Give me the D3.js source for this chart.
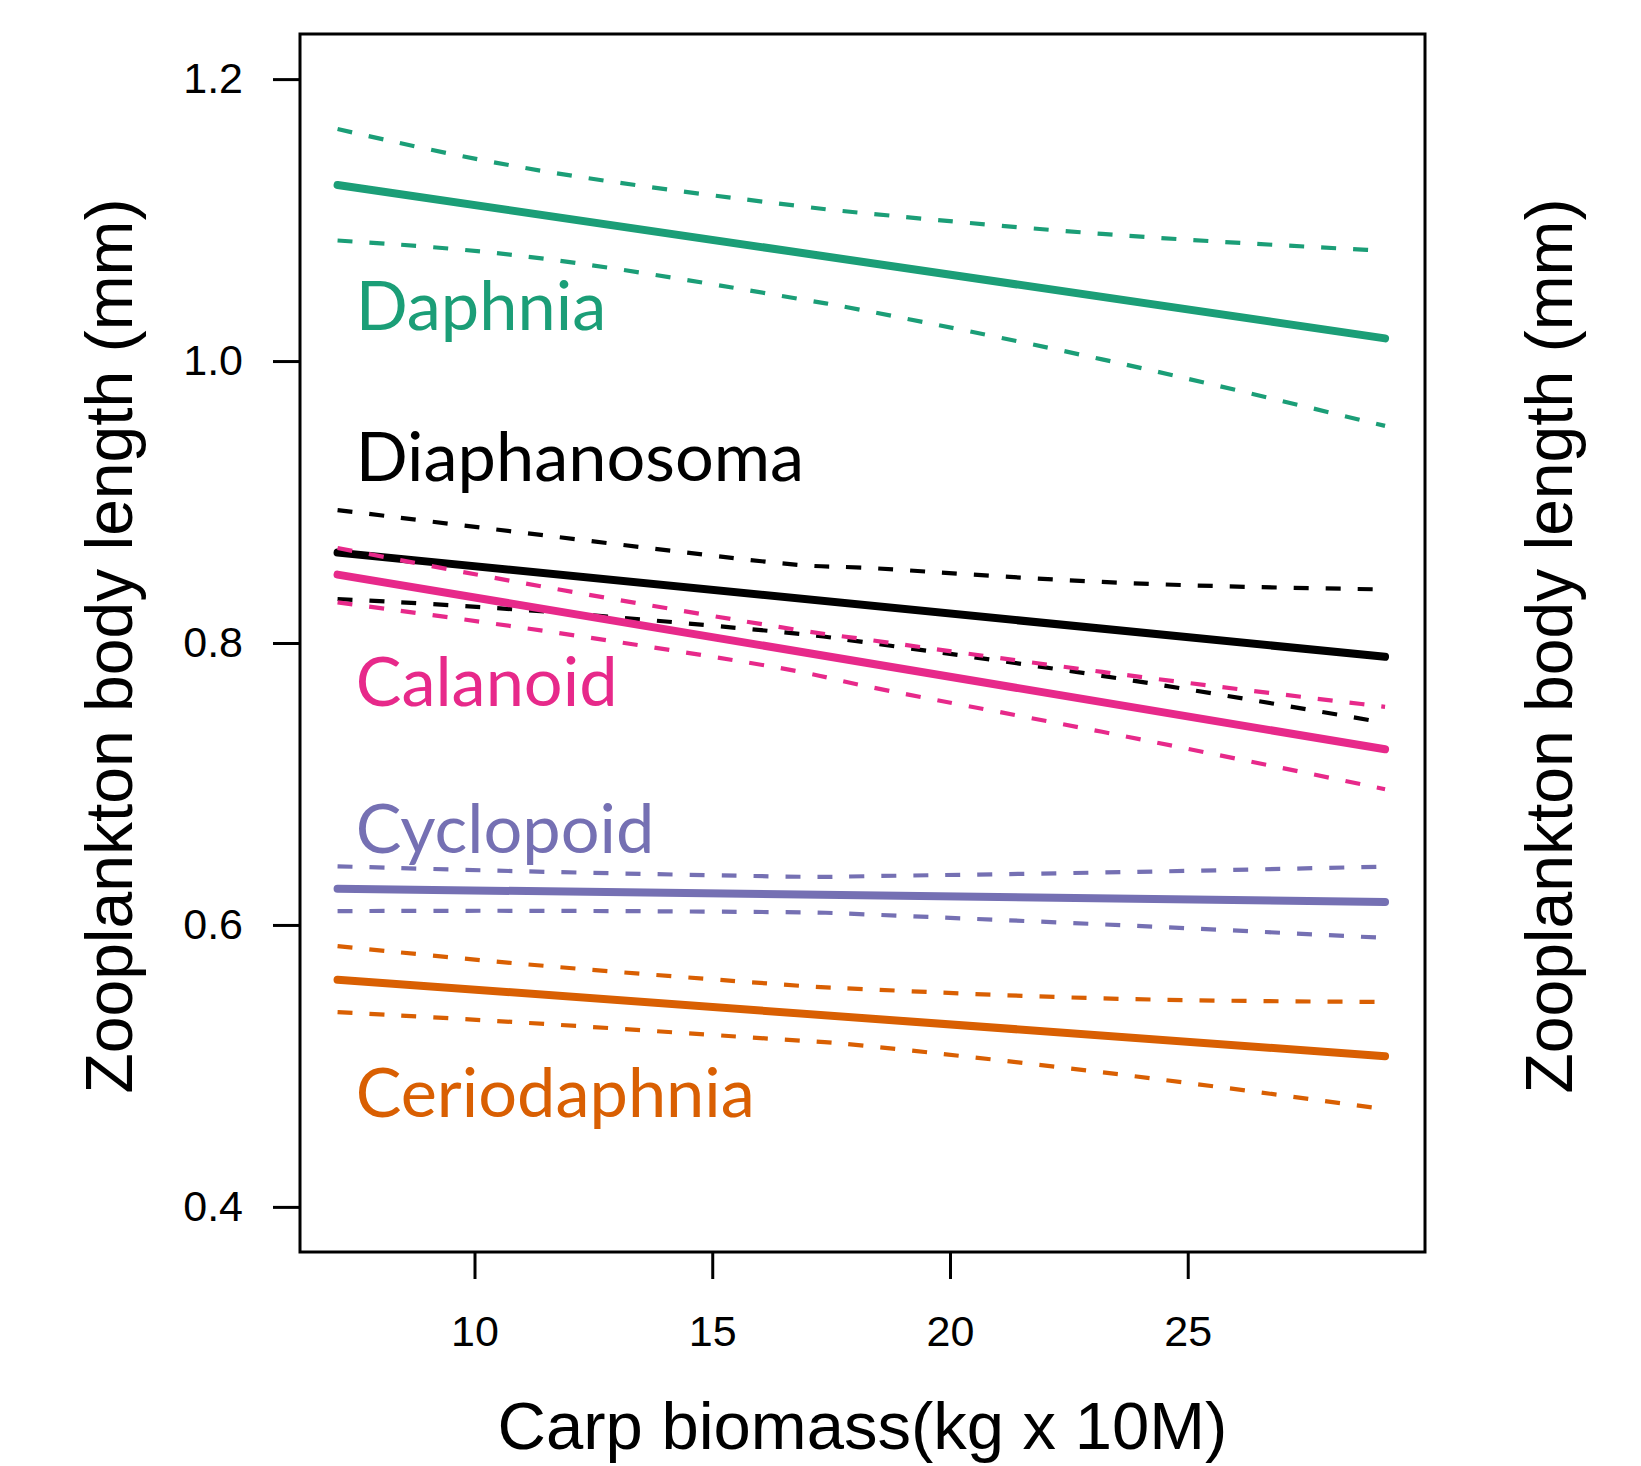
<!DOCTYPE html>
<html>
<head>
<meta charset="utf-8">
<script src="https://cdn.jsdelivr.net/npm/d3@7"></script>
<style>
  html, body { margin: 0; padding: 0; background: #fff; }
  svg { display: block; }
  .tick text { font-family: "Liberation Sans", Arial, sans-serif; }
</style>
</head>
<body>
<svg id="svg" width="1641" height="1466"></svg>
<script>
var biomass = [7.12, 11.6, 16.4, 18.3, 23.2, 29.15];
var fitEnds = [7.12, 29.15];

var xTicks = [10, 15, 20, 25];
var yTicks = [0.4, 0.6, 0.8, 1.0, 1.2];

var daphniaFit = [1.1249, 1.0161];
var daphniaUpper = [1.1646, 1.1339, 1.1117, 1.1046, 1.0902, 1.0782];
var daphniaLower = [1.0855, 1.0720, 1.0465, 1.0352, 1.0012, 0.9540];

var diaphanosomaFit = [0.8641, 0.7902];
var diaphanosomaUpper = [0.8943, 0.8758, 0.8567, 0.8532, 0.8433, 0.8380];
var diaphanosomaLower = [0.8312, 0.8220, 0.8079, 0.8001, 0.7767, 0.7434];

var calanoidFit = [0.8485, 0.7246];
var calanoidUpper = [0.8674, 0.8390, 0.8114, 0.8022, 0.7795, 0.7547];
var calanoidLower = [0.8288, 0.8079, 0.7824, 0.7689, 0.7370, 0.6963];

var cyclopoidFit = [0.6257, 0.6163];
var cyclopoidUpper = [0.6416, 0.6376, 0.6344, 0.6346, 0.6372, 0.6414];
var cyclopoidLower = [0.6098, 0.6100, 0.6091, 0.6074, 0.6004, 0.5908];

var ceriodaphniaFit = [0.5612, 0.5069];
var ceriodaphniaUpper = [0.5850, 0.5706, 0.5579, 0.5543, 0.5479, 0.5454];
var ceriodaphniaLower = [0.5382, 0.5295, 0.5189, 0.5140, 0.4955, 0.4693];

var taxa = ["Daphnia", "Diaphanosoma", "Calanoid", "Cyclopoid", "Ceriodaphnia"];
var colors = ["#1b9e77", "#000000", "#e7298a", "#7570b3", "#d95f02"];
var labelBiomass = 7.5;
var labelLength = [1.0217, 0.9148, 0.7555, 0.6513, 0.4637];

var series = [
  {fit: daphniaFit, upper: daphniaUpper, lower: daphniaLower},
  {fit: diaphanosomaFit, upper: diaphanosomaUpper, lower: diaphanosomaLower},
  {fit: calanoidFit, upper: calanoidUpper, lower: calanoidLower},
  {fit: cyclopoidFit, upper: cyclopoidUpper, lower: cyclopoidLower},
  {fit: ceriodaphniaFit, upper: ceriodaphniaUpper, lower: ceriodaphniaLower}
];

var svg = d3.select("#svg"),
  margin = {top: 34, right: 216, bottom: 214, left: 300},
  width = svg.attr("width") - margin.left - margin.right,
  height = svg.attr("height") - margin.top - margin.bottom,
  g = svg.append("g").attr("transform", "translate(" + margin.left + "," + margin.top + ")");

var x = d3.scaleLinear().domain([6.33, 29.99]).range([0, width]),
    y = d3.scaleLinear().domain([0.368, 1.232]).range([height, 0]);

var band = d3.line()
  .curve(d3.curveNatural)
  .x(function (d) { return x(d.b); })
  .y(function (d) { return y(d.v); });

var straight = d3.line()
  .x(function (d) { return x(d.b); })
  .y(function (d) { return y(d.v); });

function pair(xs, vs) {
  return xs.map(function (b, i) { return {b: b, v: vs[i]}; });
}

// axes (box drawn separately, so domain paths removed)
var xAxis = g.append("g")
  .attr("transform", "translate(0," + height + ")")
  .call(d3.axisBottom(x).tickValues(xTicks).tickSize(27).tickPadding(36).tickFormat(d3.format("d")));
var yAxis = g.append("g")
  .call(d3.axisLeft(y).tickValues(yTicks).tickSize(27).tickPadding(30).tickFormat(d3.format(".1f")));

[xAxis, yAxis].forEach(function (a) {
  a.select(".domain").remove();
  a.selectAll(".tick line").attr("stroke", "#000").attr("stroke-width", 3);
  a.selectAll(".tick text").attr("fill", "#000").attr("font-size", 43);
});

// lines
var grp = g.selectAll(".taxon")
  .data(series)
  .enter()
  .append("g")
  .attr("class", "taxon");

grp.append("path")
  .attr("d", function (d) { return band(pair(biomass, d.upper)); })
  .attr("fill", "none")
  .attr("stroke", function (d, i) { return colors[i]; })
  .attr("stroke-width", 4.2)
  .attr("stroke-dasharray", "15,17");

grp.append("path")
  .attr("d", function (d) { return band(pair(biomass, d.lower)); })
  .attr("fill", "none")
  .attr("stroke", function (d, i) { return colors[i]; })
  .attr("stroke-width", 4.2)
  .attr("stroke-dasharray", "15,17");

grp.append("path")
  .attr("d", function (d) { return straight(pair(fitEnds, d.fit)); })
  .attr("fill", "none")
  .attr("stroke", function (d, i) { return colors[i]; })
  .attr("stroke-width", 8)
  .attr("stroke-linecap", "round");

// species labels
g.selectAll(".label")
  .data(taxa)
  .enter()
  .append("text")
  .attr("class", "label")
  .attr("x", x(labelBiomass))
  .attr("y", function (d, i) { return y(labelLength[i]); })
  .attr("fill", function (d, i) { return colors[i]; })
  .attr("font-family", "Lato, 'Open Sans', sans-serif")
  .attr("font-size", 68.5)
  .text(function (d) { return d; });

// box
g.append("rect")
  .attr("width", width)
  .attr("height", height)
  .attr("fill", "none")
  .attr("stroke", "#000")
  .attr("stroke-width", 3);

// titles
svg.append("text")
  .attr("x", margin.left + width / 2)
  .attr("y", 1449)
  .attr("text-anchor", "middle")
  .attr("font-family", "'Liberation Sans', Arial, sans-serif")
  .attr("font-size", 67)
  .attr("fill", "#000")
  .text("Carp biomass(kg x 10M)");

[132, 1572].forEach(function (bx) {
  svg.append("text")
    .attr("transform", "translate(" + bx + "," + 646 + ") rotate(-90)")
    .attr("text-anchor", "middle")
    .attr("font-family", "'Liberation Sans', Arial, sans-serif")
    .attr("font-size", 66)
    .attr("fill", "#000")
    .text("Zooplankton body length (mm)");
});
</script>
</body>
</html>
